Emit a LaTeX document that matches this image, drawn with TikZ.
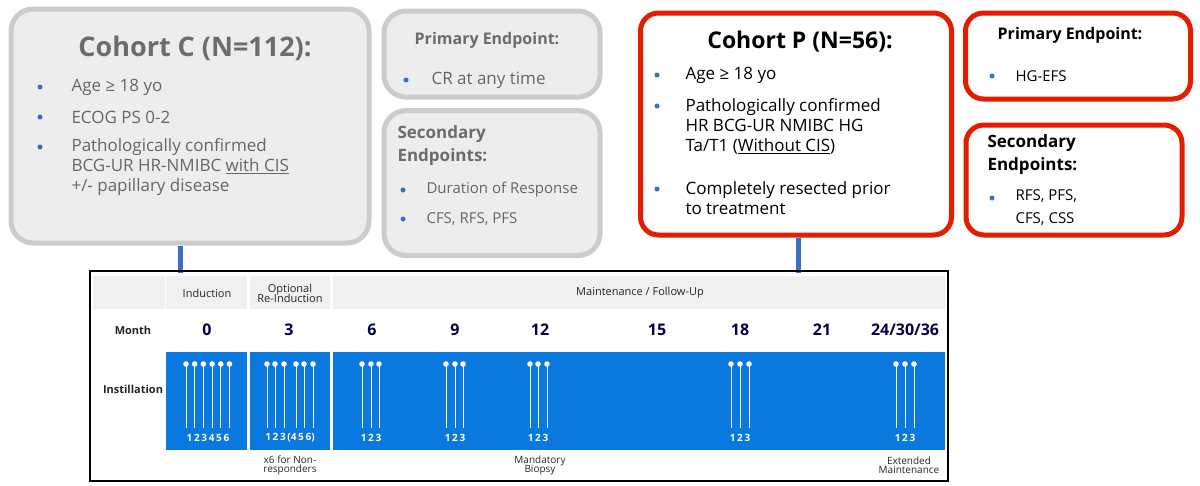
\documentclass[tikz,border=0pt]{standalone}
\usepackage{fontspec}
\setmainfont{Open Sans}
\definecolor{tblue}{HTML}{0A78DC}
\definecolor{bdot}{HTML}{3A6FC4}
\begin{document}
\begin{tikzpicture}[x=1pt,y=-1pt,
  gbox/.style={draw=gray!40,line width=5pt,fill=gray!14,rounded corners=22pt},
  rbox/.style={draw=red!75!orange!90!black,line width=5pt,fill=white,rounded corners=18pt},
  gtxt/.style={text=gray!80!black,font=\fontsize{17}{20}\selectfont,anchor=west,align=left},
  btxt/.style={text=black,font=\fontsize{17}{20}\selectfont,anchor=west,align=left},
  bul/.style={circle,fill=bdot,inner sep=0pt,minimum size=5pt},
  hd/.style={font=\fontsize{11}{12}\selectfont,align=center,text=black!85},
  mo/.style={font=\bfseries\fontsize{16}{17}\selectfont,text=blue!30!black},
  num/.style={font=\bfseries\fontsize{10}{11}\selectfont,text=white},
  inst/.style={white,line width=0.8pt},
  conn/.style={draw=bdot,line width=5pt}]
\useasboundingbox (0,0) rectangle (1200,485);
% boxes
\node[gbox,minimum width=358pt,minimum height=234pt] (cc) at (190,126) {};
\node[gbox,minimum width=216pt,minimum height=86pt] (gp) at (492,54) {};
\node[gbox,minimum width=216pt,minimum height=145pt] (gs) at (492,183) {};
\node[rbox,minimum width=311pt,minimum height=222pt] (cp) at (796,124) {};
\node[rbox,minimum width=225pt,minimum height=86pt] (rp) at (1078,56) {};
\node[rbox,minimum width=216pt,minimum height=110pt] (rs) at (1074,180) {};
% table
\coordinate (tc) at (180,273);
\coordinate (pc) at (798,273);
\draw[conn] (cc.south -| tc) -- (tc);
\draw[conn] (cp.south -| pc) -- (pc);
\fill[gray!12] (93,276) rectangle (165,309);
\fill[gray!12] (166,276) rectangle (247,309);
\fill[gray!12] (250,276) rectangle (330,309);
\fill[gray!12] (333,276) rectangle (945,309);
\fill[tblue] (166,352) rectangle (247,450);
\fill[tblue] (250,352) rectangle (330,450);
\fill[tblue] (333,352) rectangle (945,450);
\node[draw=black,line width=2.5pt,minimum width=858pt,minimum height=210pt] (tb) at (519,376) {};
\node[hd] (h1) at (207,293) {Induction};
\node[hd] (h2) at (290,293) {Optional\\[-2pt]Re-Induction};
\node[hd] (h3) at (640,293) {Maintenance / Follow-Up};
\node[hd,font=\bfseries\fontsize{11}{12}\selectfont] (lm) at (133,330) {Month};
\node[hd,font=\bfseries\fontsize{11}{12}\selectfont] (li) at (133,389) {Instillation};
\foreach \x/\t in {207/0,289/3,372/6,455/9,540/12,657/15,740/18,822/21,905/24\slash30\slash36}
  \node[mo] at (\x,330) {\t};
\foreach \x in {186,194.7,203.4,212.1,220.8,229.5,267,275,284,296,304,313,362,371,379,446,455,463,530,538,547,731,740,749,896,905,914}{
  \draw[inst] (\x,364) -- (\x,428);
  \fill[white] (\x,364) circle (2.8pt);}
\node[num] at (208,438) {1\,2\,3\,4\,5\,6};
\node[num] at (290,438) {1\,2\,3\,(4\,5\,6)};
\foreach \x in {371,455,538,740,905} \node[num] at (\x,438) {1\,2\,3};
\node[hd,font=\fontsize{10}{11}\selectfont] at (290,465) {x6 for Non-\\[-2pt]responders};
\node[hd,font=\fontsize{10}{11}\selectfont] at (540,465) {Mandatory\\[-2pt]Biopsy};
\node[hd,font=\fontsize{10}{11}\selectfont] at (909,465) {Extended\\[-2pt]Maintenance};
% Cohort C text
\node[text=gray!85!black,font=\bfseries\fontsize{27}{30}\selectfont] (cct) at (195,48) {Cohort C (N=112):};
\foreach \y in {87,117,147} \node[bul] at (40,\y) {};
\node[gtxt] at (68,87) {Age ≥ 18 yo};
\node[gtxt] at (68,117) {ECOG PS 0-2};
\node[gtxt,anchor=north west] at (68,135) {Pathologically confirmed\\BCG-UR HR-NMIBC \underline{with CIS}\\+/- papillary disease};
% grey endpoints
\node[text=gray!85!black,font=\bfseries\fontsize{16}{18}\selectfont] at (487,40) {Primary Endpoint:};
\node[bul] at (406,80) {};
\node[gtxt] at (428,80) {CR at any time};
\node[text=gray!85!black,font=\bfseries\fontsize{17}{23}\selectfont,anchor=north west,align=left] at (394,122) {Secondary\\Endpoints:};
\node[bul] at (403,190) {}; \node[bul] at (403,219) {};
\node[gtxt,font=\fontsize{15}{18}\selectfont] at (423,190) {Duration of Response};
\node[gtxt,font=\fontsize{15}{18}\selectfont] at (423,219) {CFS, RFS, PFS};
% Cohort P text
\node[font=\bfseries\fontsize{23}{26}\selectfont] (cpt) at (800,42) {Cohort P (N=56):};
\foreach \y in {75,106,189} \node[bul] at (657,\y) {};
\node[btxt] at (682,75) {Age ≥ 18 yo};
\node[btxt,anchor=north west] at (682,95) {Pathologically confirmed\\HR BCG-UR NMIBC HG\\Ta/T1 (\underline{Without CIS})};
\node[btxt,anchor=north west] at (682,178) {Completely resected prior\\to treatment};
% red endpoints
\node[font=\bfseries\fontsize{16}{18}\selectfont] at (1070,35) {Primary Endpoint:};
\node[bul] at (992,76) {};
\node[btxt,font=\fontsize{15}{18}\selectfont] at (1012,76) {HG-EFS};
\node[font=\bfseries\fontsize{17}{23}\selectfont,anchor=north west,align=left] at (984,131) {Secondary\\Endpoints:};
\node[bul] at (992,198) {};
\node[btxt,font=\fontsize{15}{23}\selectfont,anchor=north west] at (1012,186) {RFS, PFS,\\CFS, CSS};
\end{tikzpicture}
\end{document}
